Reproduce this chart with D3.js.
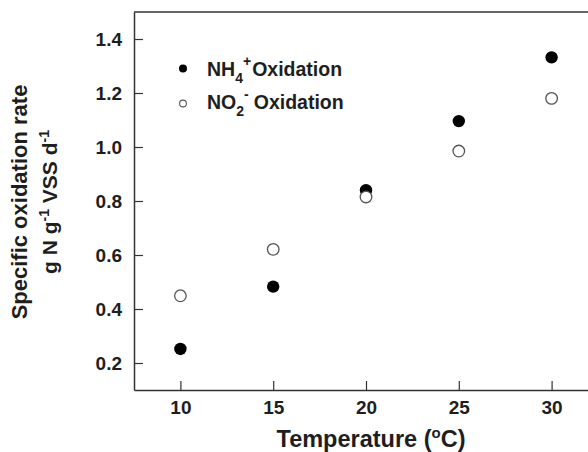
<!DOCTYPE html>
<html>
<head>
<meta charset="utf-8">
<script src="https://cdn.jsdelivr.net/npm/d3@7"></script>
<style>
  body { margin: 0; background: #fff; }
  text { font-family: "Liberation Sans", Arial, sans-serif; font-weight: bold; fill: #1e1e1e; }
</style>
</head>
<body>
<div id="chart"></div>
<script>
const temps = [10, 15, 20, 25, 30];
const nh4Rate = [0.252, 0.483, 0.84, 1.096, 1.332];
const no2Rate = [0.449, 0.621, 0.815, 0.985, 1.18];
const xTicks = [10, 15, 20, 25, 30];
const yTicks = [0.2, 0.4, 0.6, 0.8, 1.0, 1.2, 1.4];

const width = 588, height = 452;

const svg = d3.select("#chart")
  .append("svg")
  .attr("width", width)
  .attr("height", height);

const x = d3.scaleLinear().domain([7.5, 32.5]).range([134, 598]);
const y = d3.scaleLinear().domain([0.1, 1.5]).range([390, 12]);

// top of the frame (right side runs off the picture)
svg.append("line").attr("x1", 134).attr("x2", width).attr("y1", 12).attr("y2", 12)
  .attr("stroke", "#333").attr("stroke-width", 1.5);

const xAxis = svg.append("g")
  .attr("transform", "translate(0,390)")
  .call(d3.axisBottom(x).tickValues(xTicks).tickSizeInner(-9).tickSizeOuter(0).tickPadding(11));
const yAxis = svg.append("g")
  .attr("transform", "translate(134,0)")
  .call(d3.axisLeft(y).tickValues(yTicks).tickSizeInner(-9).tickSizeOuter(0).tickPadding(12)
    .tickFormat(d3.format(".1f")));

[xAxis, yAxis].forEach(g => {
  g.select(".domain").attr("stroke", "#333").attr("stroke-width", 1.5);
  g.selectAll(".tick line").attr("stroke", "#333").attr("stroke-width", 1.2);
  g.selectAll(".tick text")
    .style("font-size", "19px")
    .style("font-family", "'Liberation Sans', Arial, sans-serif")
    .style("font-weight", "bold")
    .attr("fill", "#1e1e1e");
});

// points
svg.append("g").selectAll("circle")
  .data(temps.map((t, i) => ({ t, v: nh4Rate[i] })))
  .enter().append("circle")
  .attr("cx", d => x(d.t)).attr("cy", d => y(d.v)).attr("r", 6.2)
  .attr("fill", "#000");

svg.append("g").selectAll("circle")
  .data(temps.map((t, i) => ({ t, v: no2Rate[i] })))
  .enter().append("circle")
  .attr("cx", d => x(d.t)).attr("cy", d => y(d.v)).attr("r", 5.8)
  .attr("fill", "#fff").attr("stroke", "#555").attr("stroke-width", 1.3);

// legend
const leg = svg.append("g");
leg.append("circle").attr("cx", 183).attr("cy", 68.5).attr("r", 4).attr("fill", "#000");
leg.append("circle").attr("cx", 183).attr("cy", 103.5).attr("r", 3.4)
  .attr("fill", "#fff").attr("stroke", "#555").attr("stroke-width", 1.1);

const t1 = leg.append("text").attr("x", 207).attr("y", 76).style("font-size", "19.5px");
t1.append("tspan").text("NH");
t1.append("tspan").style("font-size", "14px").attr("dy", 7).text("4");
t1.append("tspan").style("font-size", "14px").attr("dy", -17).text("+");
t1.append("tspan").attr("dy", 10).attr("dx", 1).text("Oxidation");

const t2 = leg.append("text").attr("x", 207).attr("y", 109).style("font-size", "19.5px");
t2.append("tspan").text("NO");
t2.append("tspan").style("font-size", "14px").attr("dy", 7).text("2");
t2.append("tspan").style("font-size", "14px").attr("dy", -17).text("-");
t2.append("tspan").attr("dy", 10).attr("dx", 5).text("Oxidation");

// x axis title
const xt = svg.append("text").attr("x", 371).attr("y", 447)
  .attr("text-anchor", "middle").style("font-size", "23.5px");
xt.append("tspan").text("Temperature (");
xt.append("tspan").style("font-size", "15px").attr("dy", -9).text("o");
xt.append("tspan").attr("dy", 9).text("C)");

// y axis title
const yt = svg.append("g").attr("transform", "translate(0,202) rotate(-90)");
yt.append("text").attr("x", 0).attr("y", 27).attr("text-anchor", "middle")
  .style("font-size", "22px").text("Specific oxidation rate");
const yt2 = yt.append("text").attr("x", 0).attr("y", 57).attr("text-anchor", "middle")
  .style("font-size", "21px");
yt2.append("tspan").text("g N g");
yt2.append("tspan").style("font-size", "14px").attr("dy", -8).text("-1");
yt2.append("tspan").attr("dy", 8).text(" VSS d");
yt2.append("tspan").style("font-size", "14px").attr("dy", -8).text("-1");
</script>
</body>
</html>
